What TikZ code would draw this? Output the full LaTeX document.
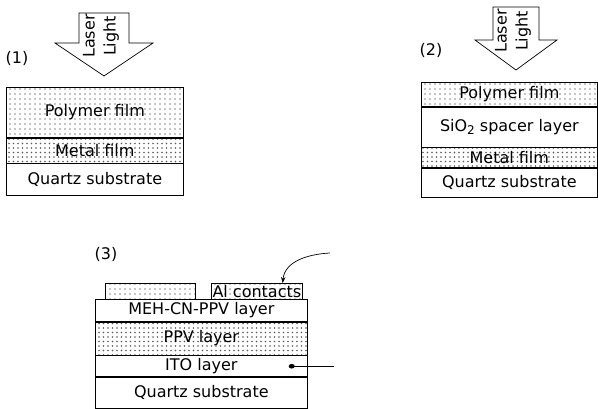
\documentclass[tikz,border=0pt]{standalone}
\usepackage{fontspec}
\setmainfont{DejaVu Sans}
\usetikzlibrary{arrows.meta,patterns.meta}
\tikzstyle{layer}=[
	draw=black,
	line width=0.7pt,
	inner sep=0pt,
	font=\fontsize{16}{18}\selectfont
]
\tikzstyle{lite}=[
	pattern={Dots[distance=5pt,radius=0.8pt]},
	pattern color=black!45
]
\tikzstyle{dense}=[
	pattern={Dots[distance=4.5pt,radius=0.95pt]},
	pattern color=black!65
]
\tikzstyle{beam}=[
	rotate=90,
	align=center,
	inner sep=0pt,
	font=\fontsize{16}{21}\selectfont
]
\tikzstyle{tag}=[
	inner sep=0pt,
	font=\fontsize{16}{18}\selectfont
]
\newcommand{\subtwo}{\raisebox{-3.5pt}{\fontsize{12}{12}\selectfont 2}}
\begin{document}
\begin{tikzpicture}[x=1pt, y=-1pt]
\useasboundingbox (0,0) rectangle (598,409);

% laser arrows
\foreach \cx/\top/\sh/\tip/\w/\h in {104/13/43/76/25/49, 516/7/40/70/23/41}{
    \draw[line width=0.7pt] (\cx-\w,\top) -- (\cx+\w,\top) -- (\cx+\w,\sh) -- (\cx+\h,\sh)
        -- (\cx,\tip) -- (\cx-\h,\sh) -- (\cx-\w,\sh) -- cycle;
}
\node[beam] (beam1) at (101,36) {Laser\\Light};
\node[beam] (beam2) at (513,31) {Laser\\Light};

% (1)
\node[tag] (lab1) at (17,58) {(1)};
\node[layer, lite, minimum width=177pt, minimum height=50pt, anchor=north west] (poly1) at (6,87) {Polymer film};
\node[layer, dense, minimum width=177pt, minimum height=25pt, anchor=north] (metal1) at (poly1.south) {Metal film};
\node[layer, minimum width=177pt, minimum height=32pt, anchor=north] (quartz1) at (metal1.south) {Quartz substrate};

% (2)
\node[tag] (lab2) at (431,50) {(2)};
\node[layer, lite, minimum width=176pt, minimum height=24pt, anchor=north west] (poly2) at (421,82) {Polymer film};
\node[layer, minimum width=176pt, minimum height=40pt, anchor=north] (sio2) at (poly2.south) {SiO\subtwo{} spacer layer};
\node[layer, dense, minimum width=176pt, minimum height=20pt, anchor=north] (metal2) at (sio2.south) {Metal film};
\node[layer, minimum width=176pt, minimum height=29pt, anchor=north] (quartz2) at (metal2.south) {Quartz substrate};

% (3)
\node[tag] (lab3) at (106,254) {(3)};
\node[layer, lite, minimum width=90pt, minimum height=16pt, anchor=north west] (alb) at (105,283) {};
\node[layer, lite, minimum width=91pt, minimum height=16pt, anchor=north west] (alc) at (211,283) {Al contacts};
\node[layer, minimum width=212pt, minimum height=22pt, anchor=north west] (meh) at (95,299) {MEH-CN-PPV layer};
\node[layer, dense, minimum width=212pt, minimum height=33pt, anchor=north] (ppv) at (meh.south) {PPV layer};
\node[layer, minimum width=212pt, minimum height=21pt, anchor=north] (ito) at (ppv.south) {ITO layer};
\node[layer, minimum width=212pt, minimum height=31pt, anchor=north] (quartz3) at (ito.south) {Quartz substrate};

\coordinate (altag) at (330,253);
\coordinate (itotag) at ([xshift=26pt]ito.east);
\draw[line width=0.7pt, -{Stealth[length=6pt,width=4.5pt]}] (altag) to[out=183, in=85] ([xshift=-20pt]alc.north east);
\draw[line width=0.7pt, -{Circle[length=6pt,width=4.5pt]}] (itotag) -- ([xshift=-19pt]ito.east);

\end{tikzpicture}
\end{document}
